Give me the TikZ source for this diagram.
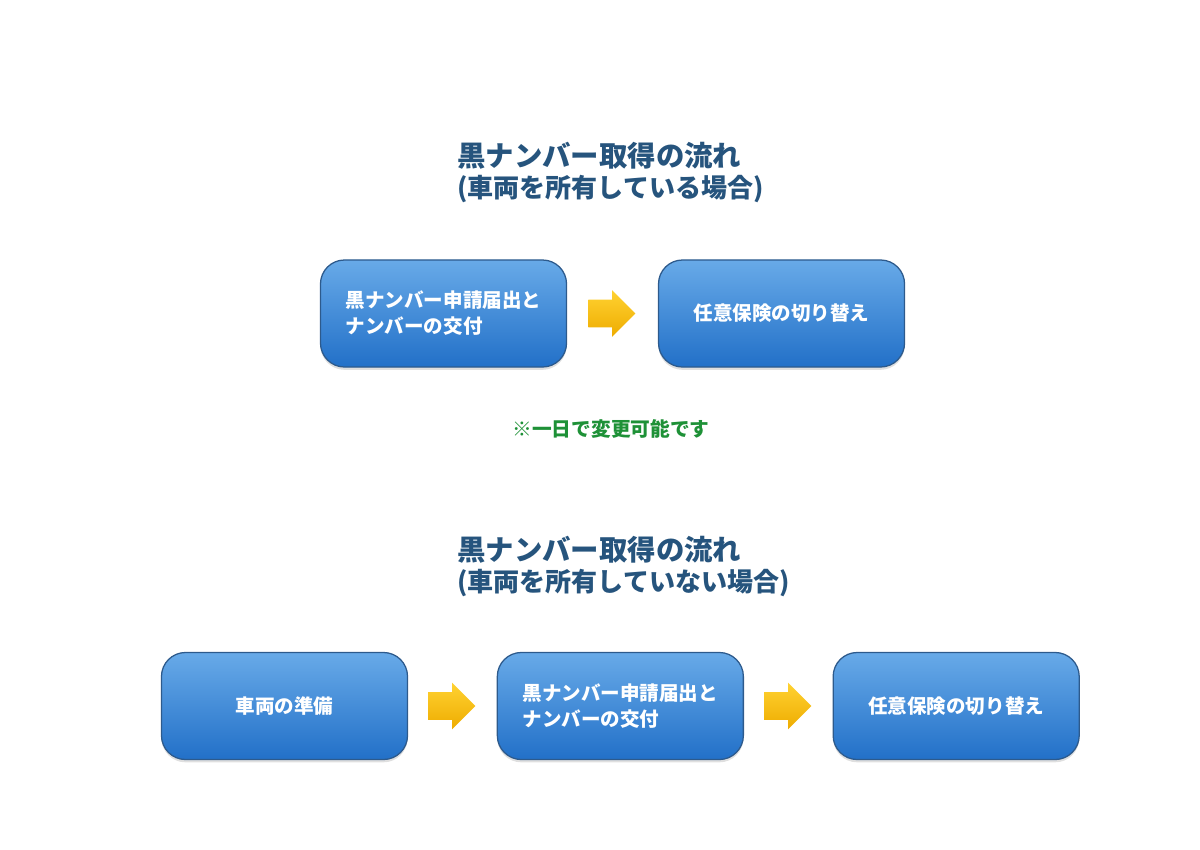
\documentclass[tikz,border=0pt]{standalone}
\usepackage{fontspec}
\setmainfont{Noto Sans CJK JP}
\usetikzlibrary{positioning,shapes.arrows,shadows}
\definecolor{headblue}{RGB}{38,84,125}
\definecolor{boxtop}{RGB}{104,170,232}
\definecolor{boxbot}{RGB}{34,112,200}
\definecolor{boxline}{RGB}{45,90,140}
\definecolor{notegreen}{RGB}{30,145,55}
\definecolor{arrtop}{RGB}{255,210,50}
\definecolor{arrbot}{RGB}{238,172,0}
\begin{document}
\begin{tikzpicture}[x=0.025cm,y=-0.025cm,
  heading/.style={anchor=west,inner sep=0,text=headblue,font=\bfseries\fontsize{20.2}{24}\selectfont},
  subhead/.style={font=\bfseries\fontsize{18.5}{22}\selectfont},
  flowbox/.style={rounded corners=0.6cm,draw=boxline,line width=0.9pt,top color=boxtop,bottom color=boxbot,
    minimum width=6.15cm,minimum height=2.675cm,text=white,align=left,
    font=\bfseries\fontsize{13.9}{18.5}\selectfont,
    drop shadow={opacity=0.25,shadow xshift=0pt,shadow yshift=-2pt}},
  blockarrow/.style={single arrow,single arrow head extend=0.2375cm,inner xsep=0pt,inner ysep=0.3375cm,
    minimum height=1.175cm,top color=arrtop,bottom color=arrbot},
  note/.style={text=notegreen,font=\bfseries\fontsize{14}{17}\selectfont}]
\useasboundingbox (0,0) rectangle (1200,849);
% with the vehicle
\node[heading] (head1) at (457,156) {黒ナンバー取得の流れ};
\node[heading,subhead] (sub1) at (457,189) {(車両を所有している場合)};
\node[flowbox] (apply1) at (443.5,313.5) {黒ナンバー申請届出と\\ナンバーの交付};
\node[blockarrow,right=0.525cm of apply1] (arr1) {};
\node[flowbox,right=0.55cm of arr1] (insur1) {任意保険の切り替え};
\node[note] (note) at (611,429) {※一日で変更可能です};
% without the vehicle
\node[heading] (head2) at (457,550) {黒ナンバー取得の流れ};
\node[heading,subhead] (sub2) at (457,583) {(車両を所有していない場合)};
\node[flowbox] (car2) at (284.5,706) {車両の準備};
\node[blockarrow,right=0.5cm of car2] (arr2) {};
\node[flowbox,right=0.52cm of arr2] (apply2) {黒ナンバー申請届出と\\ナンバーの交付};
\node[blockarrow,right=0.5cm of apply2] (arr3) {};
\node[flowbox,right=0.52cm of arr3] (insur2) {任意保険の切り替え};
\end{tikzpicture}
\end{document}
